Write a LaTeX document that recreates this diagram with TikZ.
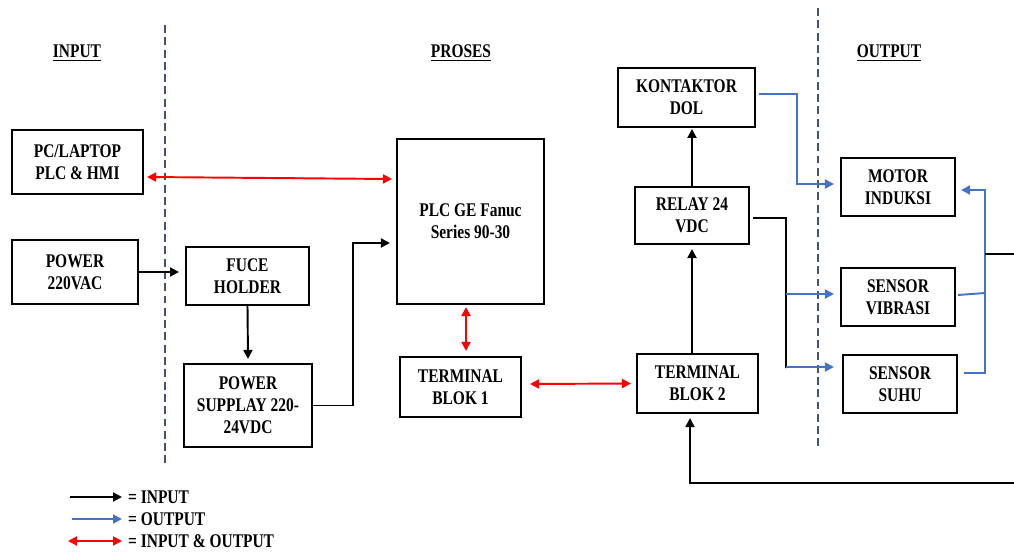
\documentclass[tikz,border=0pt]{standalone}
\usepackage{fontspec}
\setmainfont{Liberation Serif}[FakeStretch=0.8]
\usetikzlibrary{arrows.meta}
\definecolor{outblue}{RGB}{68,114,196}
\definecolor{sepgray}{RGB}{68,84,106}

\begin{document}
\begin{tikzpicture}[x=0.02cm, y=-0.02cm,
  box/.style={draw, line width=1.2pt, align=center, inner sep=1pt,
    font=\fontsize{11}{12.5}\selectfont\bfseries},
  head/.style={font=\fontsize{11}{12}\selectfont\bfseries},
  tip/.style={-{Triangle[length=1.8mm,width=1.8mm]}},
  inarr/.style={line width=1.1pt, tip},
  outarr/.style={outblue, line width=1.1pt, tip},
  outwire/.style={outblue, line width=1.1pt},
  ioarr/.style={red, line width=1.1pt, {Triangle[length=1.8mm,width=1.8mm]}-{Triangle[length=1.8mm,width=1.8mm]}},
  wire/.style={line width=1.1pt}]

\useasboundingbox (0,0) rectangle (1014,551);

\begin{scope}[sepgray, line width=0.9pt, dash pattern=on 4.5pt off 2.5pt]
\draw (165,25) -- (165,467);
\draw (818,8) -- (818,450);
\end{scope}

\node[head] (hin)  at (77,53)  {\underline{INPUT}};
\node[head] (hpro) at (461,53) {\underline{PROSES}};
\node[head] (hout) at (889,53) {\underline{OUTPUT}};

\node[box, minimum width=2.62cm, minimum height=1.28cm] (pc)    at (77.5,162)  {PC/LAPTOP\\PLC \& HMI};
\node[box, minimum width=2.52cm, minimum height=1.28cm] (power) at (75,272)    {POWER\\220VAC};
\node[box, minimum width=2.46cm, minimum height=1.16cm] (fuce)  at (247.5,276)  {FUCE\\HOLDER};
\node[box, minimum width=2.56cm, minimum height=1.66cm] (psu)   at (248,405.5) {POWER\\SUPPLAY 220-\\24VDC};
\node[box, minimum width=2.94cm, minimum height=3.3cm]  (plc)   at (470.5,221.5) {PLC GE Fanuc\\Series 90-30};
\node[box, minimum width=2.42cm, minimum height=1.2cm]  (tb1)   at (460.5,387) {TERMINAL\\BLOK 1};
\node[box, minimum width=2.74cm, minimum height=1.18cm] (kont)  at (686.5,97.5) {KONTAKTOR\\DOL};
\node[box, minimum width=2.28cm, minimum height=1.14cm] (relay) at (692,215.5) {RELAY 24\\VDC};
\node[box, minimum width=2.42cm, minimum height=1.18cm] (tb2)   at (697.5,383.5) {TERMINAL\\BLOK 2};
\node[box, minimum width=2.28cm, minimum height=1.16cm] (motor) at (898,187) {MOTOR\\INDUKSI};
\node[box, minimum width=2.28cm, minimum height=1.16cm] (vib)   at (898,297) {SENSOR\\VIBRASI};
\node[box, minimum width=2.28cm, minimum height=1.16cm] (suhu)  at (900,384) {SENSOR\\SUHU};

\coordinate (feed) at (1014,483);
\coordinate (rb) at (786,218);
\coordinate (rt) at (985,254);
\coordinate (rtout) at (1014,254);

\draw[ioarr] ([xshift=0.06cm,yshift=-0.3cm]pc.east) -- ([xshift=-0.08cm,yshift=0.85cm]plc.west);
\draw[inarr] (power.east) -- ++(40,0);
\draw[inarr] (fuce.south) -- ([yshift=0.08cm]psu.north);
\draw[inarr] (psu.east) -- ++(40,0) |- ([xshift=-0.12cm,yshift=-0.43cm]plc.west);
\draw[ioarr] ([xshift=-0.09cm,yshift=-0.04cm]plc.south) -- ([xshift=0.11cm,yshift=0.1cm]tb1.north);
\draw[ioarr] ([xshift=0.16cm,yshift=0.06cm]tb1.east) -- ([xshift=-0.1cm]tb2.west);
\draw[inarr] ([xshift=-0.11cm]tb2.north) -- ([yshift=-0.08cm]relay.south);
\draw[inarr] (relay.north) -- ++(0,-57);
\draw[inarr] (feed) -| ([xshift=-0.15cm,yshift=-0.08cm]tb2.south);

\draw[outarr] ([xshift=0.06cm,yshift=0.07cm]kont.east) -| (797,184) -- ([xshift=-0.12cm,yshift=0.06cm]motor.west);
\draw[wire] ([xshift=0.06cm,yshift=-0.05cm]relay.east) -- (rb) -- (786,368);
\draw[outarr] (786,294) -- ([xshift=-0.12cm,yshift=0.06cm]vib.west);
\draw[outarr] (786,367) -- ([xshift=-0.16cm,yshift=0.34cm]suhu.west);

\draw[outwire] ([xshift=0.04cm,yshift=0.04cm]vib.east) -- (985,293);
\draw[outarr] ([xshift=0.12cm,yshift=0.22cm]suhu.east) -| (985,190) -- ([xshift=0.1cm,yshift=-0.06cm]motor.east);
\draw[wire] (rt) -- (rtout);

\node[head, anchor=west] (lg1) at (122,497) {= INPUT};
\node[head, anchor=west] (lg2) at (122,519) {= OUTPUT};
\node[head, anchor=west] (lg3) at (122,541) {= INPUT \& OUTPUT};
\coordinate (lg1a) at (70,497);
\coordinate (lg2a) at (72,519);
\coordinate (lg3a) at (68,541);
\draw[inarr] (lg1a) -- (lg1.west);
\draw[outarr] (lg2a) -- (lg2.west);
\draw[ioarr] (lg3a) -- (lg3.west);

\end{tikzpicture}
\end{document}
